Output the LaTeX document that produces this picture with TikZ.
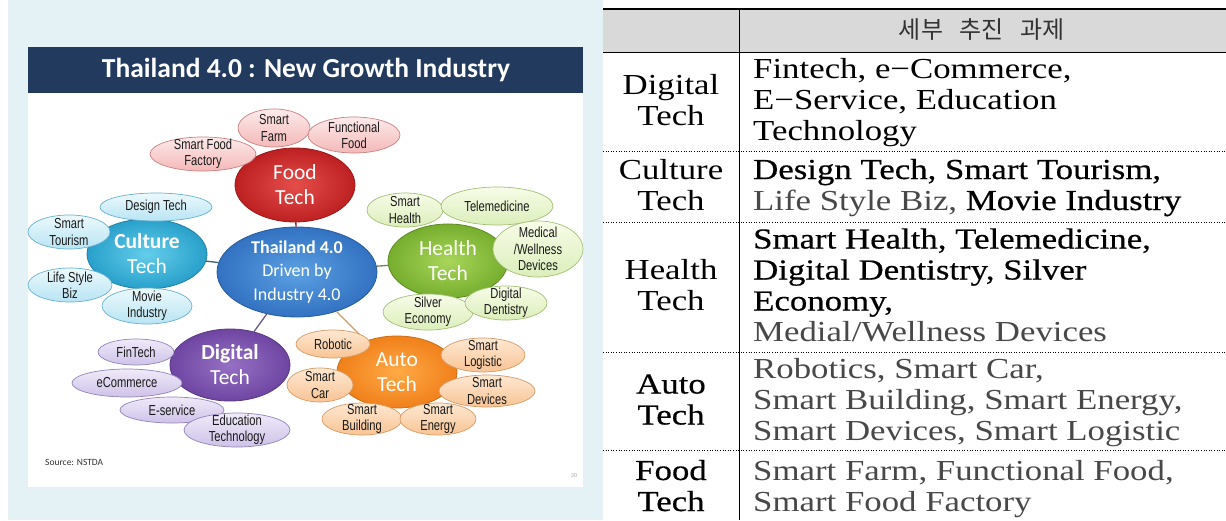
\documentclass[tikz,border=0pt]{standalone}
\usepackage{fontspec}
\setmainfont{Liberation Serif}
\newfontfamily\calfont{Carlito}
\newfontfamily\narrowf[FakeStretch=0.77]{Liberation Sans}
\newfontfamily\tabf[FakeStretch=1.2]{Liberation Serif}
\newfontfamily\tabheavy[FakeStretch=1.2,FakeBold=0.5]{Liberation Serif}
\newfontfamily\krf{Noto Sans CJK KR}
\usetikzlibrary{shapes.geometric}

\definecolor{bgcyan}{RGB}{228,242,245}
\definecolor{navy}{RGB}{33,58,94}
\definecolor{hdrgray}{RGB}{217,217,217}
\definecolor{tabgray}{RGB}{72,72,72}
\definecolor{foodA}{RGB}{228,78,74}\definecolor{foodB}{RGB}{190,32,34}
\definecolor{cultA}{RGB}{100,205,235}\definecolor{cultB}{RGB}{40,160,202}
\definecolor{centA}{RGB}{92,160,225}\definecolor{centB}{RGB}{50,114,194}
\definecolor{hlthA}{RGB}{168,214,90}\definecolor{hlthB}{RGB}{118,174,46}
\definecolor{digA}{RGB}{150,112,196}\definecolor{digB}{RGB}{110,70,162}
\definecolor{autoA}{RGB}{255,170,70}\definecolor{autoB}{RGB}{240,128,26}
\definecolor{pinkA}{RGB}{253,234,234}\definecolor{pinkB}{RGB}{244,184,184}\definecolor{pinkD}{RGB}{200,130,130}
\definecolor{cyanA}{RGB}{236,249,253}\definecolor{cyanB}{RGB}{184,228,243}\definecolor{cyanD}{RGB}{105,178,206}
\definecolor{grnA}{RGB}{247,252,232}\definecolor{grnB}{RGB}{220,238,186}\definecolor{grnD}{RGB}{162,192,118}
\definecolor{purA}{RGB}{240,234,249}\definecolor{purB}{RGB}{206,194,232}\definecolor{purD}{RGB}{146,132,188}
\definecolor{orgA}{RGB}{254,232,210}\definecolor{orgB}{RGB}{248,196,148}\definecolor{orgD}{RGB}{214,156,104}

\newcommand\tbL[1]{{\color{tabgray}#1}}
\newcommand\tbH[1]{{\tabheavy #1}}
% name, x, y, rx, ry, shape style, text style, text
\newcommand\bub[8]{%
  \node[#6, minimum width=2*#4, minimum height=2*#5] (#1) at (#2,#3) {};
  \node[#7] (#1-t) at (#1.center) {#8};}

\tikzset{
  mainb/.style={ellipse, inner sep=0pt, line width=0.8pt},
  satb/.style={ellipse, inner sep=0pt, line width=0.7pt},
  maintext/.style={font=\calfont\fontsize{21.5}{25}\selectfont, text=white, align=center, inner sep=0pt},
  centtext/.style={font=\calfont\fontsize{18}{23.5}\selectfont, text=white, align=center, inner sep=0pt},
  sattext/.style={font=\narrowf\fontsize{14.5}{16.3}\selectfont, text=black!90, align=center, inner sep=0pt},
  foodm/.style={mainb, inner color=foodA, outer color=foodB, draw=foodB!80!black},
  cultm/.style={mainb, inner color=cultA, outer color=cultB, draw=cultB!80!black},
  centm/.style={mainb, inner color=centA, outer color=centB, draw=centB!80!black},
  hlthm/.style={mainb, inner color=hlthA, outer color=hlthB, draw=hlthB!80!black},
  digm/.style={mainb, inner color=digA, outer color=digB, draw=digB!80!black},
  autom/.style={mainb, inner color=autoA, outer color=autoB, draw=autoB!85!black},
  foods/.style={satb, top color=pinkA, bottom color=pinkB, draw=pinkD},
  cults/.style={satb, top color=cyanA, bottom color=cyanB, draw=cyanD},
  hlths/.style={satb, top color=grnA, bottom color=grnB, draw=grnD},
  digs/.style={satb, top color=purA, bottom color=purB, draw=purD},
  autos/.style={satb, top color=orgA, bottom color=orgB, draw=orgD},
  conn/.style={line width=1.3pt},
  tlab/.style={font=\tabf\fontsize{29}{31}\selectfont, anchor=base, inner sep=0pt},
  tcont/.style={font=\tabf\fontsize{29}{31}\selectfont, anchor=base west, inner sep=0pt},
  dotrule/.style={line width=0.9pt, dash pattern=on 1pt off 1.6pt},
}

\begin{document}
\begin{tikzpicture}[x=1pt,y=-1pt]
\useasboundingbox (0,0) rectangle (1226,520);
% backgrounds
\fill[white] (0,0) rectangle (1226,520);
\fill[bgcyan] (8,0) rectangle (603,520);
\fill[white] (28,47) rectangle (583,487);
\fill[navy] (28,47) rectangle (583,93);
\node[font=\calfont\bfseries\fontsize{27.5}{30}\selectfont, text=white, inner sep=0pt] (title) at (306,70) {Thailand 4.0 : New Growth Industry};

% main bubbles
\bub{food}{295}{185}{60}{37}{foodm}{maintext}{Food\\Tech}
\bub{cult}{147}{254}{60}{35}{cultm}{maintext}{{\bfseries Culture}\\Tech}
\bub{hlth}{448}{261}{60}{37}{hlthm}{maintext}{Health\\Tech}
\bub{dig}{230}{365}{60}{36}{digm}{maintext}{{\bfseries Digital}\\Tech}
\bub{auto}{397}{372}{60}{36}{autom}{maintext}{Auto\\Tech}
\bub{ctr}{297}{272}{80}{45}{centm}{centtext}{{\bfseries Thailand 4.0}\\Driven by\\Industry 4.0}

% connectors
\draw[conn, draw=foodB!70!black] (ctr) -- (food);
\draw[conn, draw=black!45!cyanD] (ctr) -- (cult);
\draw[conn, draw=black!30!grnD] (ctr) -- (hlth);
\draw[conn, draw=black!30!purD] (ctr) -- (dig);
\draw[conn, draw=orgD] (ctr) -- (auto);

% food satellites
\bub{sff}{203}{154}{53}{17}{foods}{sattext}{Smart Food\\Factory}
\bub{sfarm}{274}{128}{36}{19}{foods}{sattext}{Smart\\Farm}
\bub{ffood}{354}{135}{46}{18}{foods}{sattext}{Functional\\Food}

% culture satellites
\bub{dsgn}{156}{207}{56}{14}{cults}{sattext}{Design Tech}
\bub{tour}{69}{232}{41}{17}{cults}{sattext}{Smart\\Tourism}
\bub{life}{70}{285}{42}{17}{cults}{sattext}{Life Style\\Biz}
\bub{movie}{147}{306}{45}{18}{cults}{sattext}{Movie\\Industry}

% health satellites
\bub{shlth}{405}{210}{38}{17}{hlths}{sattext}{Smart\\Health}
\bub{tele}{497}{206}{56}{19}{hlths}{sattext}{Telemedicine}
\bub{med}{538}{249}{45}{28}{hlths}{sattext}{Medical\\/Wellness\\Devices}
\bub{silv}{428}{312}{45}{18}{hlths}{sattext}{Silver\\Economy}
\bub{dent}{506}{303}{41}{17}{hlths}{sattext}{Digital\\Dentistry}

% digital satellites
\bub{fin}{136}{352}{38}{13}{digs}{sattext}{FinTech}
\bub{ecom}{127}{383}{55}{14}{digs}{sattext}{eCommerce}
\bub{eserv}{172}{410}{52}{13}{digs}{sattext}{E-service}
\bub{edu}{237}{430}{53}{17}{digs}{sattext}{Education\\Technology}

% auto satellites
\bub{robo}{333}{344}{37}{14}{autos}{sattext}{Robotic}
\bub{scar}{320}{385}{33}{17}{autos}{sattext}{Smart\\Car}
\bub{sbld}{362}{419}{40}{16}{autos}{sattext}{Smart\\Building}
\bub{sen}{438}{419}{38}{16}{autos}{sattext}{Smart\\Energy}
\bub{slog}{483}{355}{42}{17}{autos}{sattext}{Smart\\Logistic}
\bub{sdev}{487}{391}{48}{16}{autos}{sattext}{Smart\\Devices}

\node[font=\calfont\fontsize{9.5}{10}\selectfont, text=black!80, anchor=west, inner sep=0pt] (src) at (45,462) {Source: NSTDA};
\node[font=\calfont\fontsize{6}{7}\selectfont, text=black!35, inner sep=0pt] (pg) at (574,476) {30};

% table
\fill[hdrgray] (603,9) rectangle (1226,52);
\draw[line width=2pt] (603,9) -- (1226,9);
\draw[line width=0.9pt] (603,52) -- (1226,52);
\draw[line width=0.9pt] (739,9) -- (739,520);
\foreach \yy in {151,222,352,450} \draw[dotrule] (603,\yy) -- (1226,\yy);

\node[font=\krf\fontsize{24}{28}\selectfont, text=black!80, inner sep=0pt] (hdr) at (982,30) {세부\hspace{0.7em}추진\hspace{0.7em}과제};

% row labels
\node[tlab] (ldig1) at (671,94) {Digital};
\node[tlab] (ldig2) at (671,125) {Tech};
\node[tlab] (lcul1) at (671,179) {Culture};
\node[tlab] (lcul2) at (671,210) {Tech};
\node[tlab] (lhl1) at (671,279.5) {Health};
\node[tlab] (lhl2) at (671,310.5) {Tech};
\node[tlab] (lau1) at (671,393.5) {\tbH{Auto}};
\node[tlab] (lau2) at (671,424.5) {\tbH{Tech}};
\node[tlab] (lfd1) at (671,480) {\tbH{Food}};
\node[tlab] (lfd2) at (671,511) {\tbH{Tech}};

% row contents
\node[tcont] (cdig1) at (753,78.5) {Fintech, e−Commerce,};
\node[tcont] (cdig2) at (753,109.5) {E−Service, Education};
\node[tcont] (cdig3) at (753,140.5) {Technology};
\node[tcont] (ccul1) at (753,179) {\tbH{Design Tech, Smart Tourism,}};
\node[tcont] (ccul2) at (753,210) {\tbL{Life Style Biz,} \tbH{Movie Industry}};
\node[tcont] (chl1) at (753,248.5) {\tbH{Smart Health, Telemedicine,}};
\node[tcont] (chl2) at (753,279.5) {\tbH{Digital Dentistry, Silver}};
\node[tcont] (chl3) at (753,310.5) {\tbH{Economy,}};
\node[tcont] (chl4) at (753,341.5) {\tbL{Medial/Wellness Devices}};
\node[tcont] (cau1) at (753,378) {\tbL{Robotics, Smart Car,}};
\node[tcont] (cau2) at (753,409) {\tbL{Smart Building, Smart Energy,}};
\node[tcont] (cau3) at (753,440) {\tbL{Smart Devices, Smart Logistic}};
\node[tcont] (cfd1) at (753,480) {\tbL{Smart Farm, Functional Food,}};
\node[tcont] (cfd2) at (753,511) {\tbL{Smart Food Factory}};
\end{tikzpicture}
\end{document}
